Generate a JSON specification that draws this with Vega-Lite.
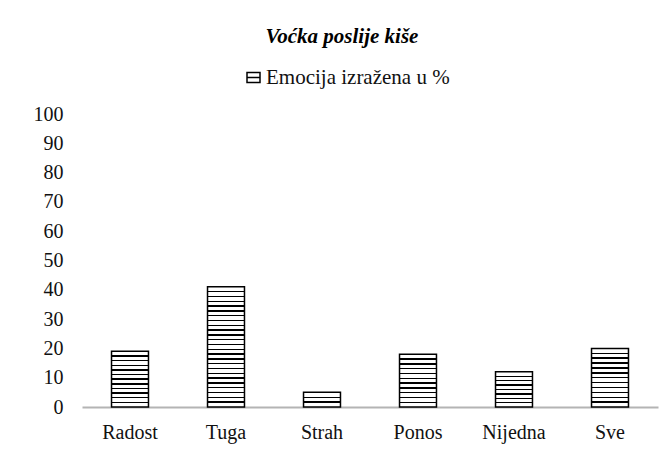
{
  "$schema": "https://vega.github.io/schema/vega-lite/v6.json",
  "width": 576,
  "height": 293,
  "autosize": {"type": "none"},
  "padding": {"left": 82, "top": 114, "right": 13, "bottom": 44},
  "background": "white",
  "title": {
    "text": "Voćka poslije kiše",
    "font": "Liberation Serif",
    "fontSize": 21,
    "fontWeight": "bold",
    "fontStyle": "italic",
    "color": "#000",
    "anchor": "middle",
    "frame": "group",
    "baseline": "alphabetic",
    "offset": 3,
    "dx": -28
  },
  "data": {
    "values": [
      {"emocija": "Radost", "postotak": 19, "serija": "Emocija izražena u %"},
      {"emocija": "Tuga", "postotak": 41, "serija": "Emocija izražena u %"},
      {"emocija": "Strah", "postotak": 5, "serija": "Emocija izražena u %"},
      {"emocija": "Ponos", "postotak": 18, "serija": "Emocija izražena u %"},
      {"emocija": "Nijedna", "postotak": 12, "serija": "Emocija izražena u %"},
      {"emocija": "Sve", "postotak": 20, "serija": "Emocija izražena u %"}
    ]
  },
  "mark": {"type": "bar", "strokeWidth": 1.5},
  "encoding": {
    "x": {
      "field": "emocija",
      "type": "nominal",
      "sort": null,
      "scale": {"paddingInner": 0.615, "paddingOuter": 0.3075},
      "axis": {
        "title": null,
        "labelAngle": 0,
        "labelFont": "Liberation Serif",
        "labelFontSize": 20,
        "labelColor": "#111",
        "labelPadding": 15,
        "ticks": false,
        "domain": true,
        "domainColor": "#b4b4b4",
        "domainWidth": 2,
        "grid": false
      }
    },
    "y": {
      "field": "postotak",
      "type": "quantitative",
      "scale": {"domain": [0, 100], "nice": false},
      "axis": {
        "title": null,
        "values": [0, 10, 20, 30, 40, 50, 60, 70, 80, 90, 100],
        "labelFont": "Liberation Serif",
        "labelFontSize": 20,
        "labelColor": "#111",
        "labelPadding": 19,
        "ticks": false,
        "domain": false,
        "grid": false
      }
    },
    "stroke": {
      "field": "serija",
      "type": "nominal",
      "scale": {"range": ["#000"]},
      "legend": {
        "title": null,
        "orient": "none",
        "legendX": 161,
        "legendY": -47,
        "padding": 0,
        "symbolType": "M-1,-0.78H1V0.78H-1ZM-1,0H1",
        "symbolSize": 169,
        "symbolStrokeWidth": 1.5,
        "symbolFillColor": "white",
        "labelFont": "Liberation Serif",
        "labelFontSize": 21,
        "labelColor": "#111",
        "labelOffset": 2,
        "labelLimit": 400
      }
    },
    "fill": {
      "condition": [
        {"test": "datum.emocija === 'Radost'", "value": {"gradient": "linear", "x1": 0, "y1": 0, "x2": 0, "y2": 1, "stops": [
          {"offset": 0, "color": "#fff"},
          {"offset": 0.0707, "color": "#fff"}, {"offset": 0.0707, "color": "#000"}, {"offset": 0.0959, "color": "#000"}, {"offset": 0.0959, "color": "#fff"},
          {"offset": 0.1541, "color": "#fff"}, {"offset": 0.1541, "color": "#000"}, {"offset": 0.1793, "color": "#000"}, {"offset": 0.1793, "color": "#fff"},
          {"offset": 0.2374, "color": "#fff"}, {"offset": 0.2374, "color": "#000"}, {"offset": 0.2626, "color": "#000"}, {"offset": 0.2626, "color": "#fff"},
          {"offset": 0.3207, "color": "#fff"}, {"offset": 0.3207, "color": "#000"}, {"offset": 0.3459, "color": "#000"}, {"offset": 0.3459, "color": "#fff"},
          {"offset": 0.4041, "color": "#fff"}, {"offset": 0.4041, "color": "#000"}, {"offset": 0.4293, "color": "#000"}, {"offset": 0.4293, "color": "#fff"},
          {"offset": 0.4874, "color": "#fff"}, {"offset": 0.4874, "color": "#000"}, {"offset": 0.5126, "color": "#000"}, {"offset": 0.5126, "color": "#fff"},
          {"offset": 0.5707, "color": "#fff"}, {"offset": 0.5707, "color": "#000"}, {"offset": 0.5959, "color": "#000"}, {"offset": 0.5959, "color": "#fff"},
          {"offset": 0.6541, "color": "#fff"}, {"offset": 0.6541, "color": "#000"}, {"offset": 0.6793, "color": "#000"}, {"offset": 0.6793, "color": "#fff"},
          {"offset": 0.7374, "color": "#fff"}, {"offset": 0.7374, "color": "#000"}, {"offset": 0.7626, "color": "#000"}, {"offset": 0.7626, "color": "#fff"},
          {"offset": 0.8207, "color": "#fff"}, {"offset": 0.8207, "color": "#000"}, {"offset": 0.8459, "color": "#000"}, {"offset": 0.8459, "color": "#fff"},
          {"offset": 0.9041, "color": "#fff"}, {"offset": 0.9041, "color": "#000"}, {"offset": 0.9293, "color": "#000"}, {"offset": 0.9293, "color": "#fff"},
          {"offset": 1, "color": "#fff"}
        ]}},
        {"test": "datum.emocija === 'Tuga'", "value": {"gradient": "linear", "x1": 0, "y1": 0, "x2": 0, "y2": 1, "stops": [
          {"offset": 0, "color": "#fff"},
          {"offset": 0.0342, "color": "#fff"}, {"offset": 0.0342, "color": "#000"}, {"offset": 0.0458, "color": "#000"}, {"offset": 0.0458, "color": "#fff"},
          {"offset": 0.0742, "color": "#fff"}, {"offset": 0.0742, "color": "#000"}, {"offset": 0.0858, "color": "#000"}, {"offset": 0.0858, "color": "#fff"},
          {"offset": 0.1142, "color": "#fff"}, {"offset": 0.1142, "color": "#000"}, {"offset": 0.1258, "color": "#000"}, {"offset": 0.1258, "color": "#fff"},
          {"offset": 0.1542, "color": "#fff"}, {"offset": 0.1542, "color": "#000"}, {"offset": 0.1658, "color": "#000"}, {"offset": 0.1658, "color": "#fff"},
          {"offset": 0.1942, "color": "#fff"}, {"offset": 0.1942, "color": "#000"}, {"offset": 0.2058, "color": "#000"}, {"offset": 0.2058, "color": "#fff"},
          {"offset": 0.2342, "color": "#fff"}, {"offset": 0.2342, "color": "#000"}, {"offset": 0.2458, "color": "#000"}, {"offset": 0.2458, "color": "#fff"},
          {"offset": 0.2742, "color": "#fff"}, {"offset": 0.2742, "color": "#000"}, {"offset": 0.2858, "color": "#000"}, {"offset": 0.2858, "color": "#fff"},
          {"offset": 0.3142, "color": "#fff"}, {"offset": 0.3142, "color": "#000"}, {"offset": 0.3258, "color": "#000"}, {"offset": 0.3258, "color": "#fff"},
          {"offset": 0.3542, "color": "#fff"}, {"offset": 0.3542, "color": "#000"}, {"offset": 0.3658, "color": "#000"}, {"offset": 0.3658, "color": "#fff"},
          {"offset": 0.3942, "color": "#fff"}, {"offset": 0.3942, "color": "#000"}, {"offset": 0.4058, "color": "#000"}, {"offset": 0.4058, "color": "#fff"},
          {"offset": 0.4342, "color": "#fff"}, {"offset": 0.4342, "color": "#000"}, {"offset": 0.4458, "color": "#000"}, {"offset": 0.4458, "color": "#fff"},
          {"offset": 0.4742, "color": "#fff"}, {"offset": 0.4742, "color": "#000"}, {"offset": 0.4858, "color": "#000"}, {"offset": 0.4858, "color": "#fff"},
          {"offset": 0.5142, "color": "#fff"}, {"offset": 0.5142, "color": "#000"}, {"offset": 0.5258, "color": "#000"}, {"offset": 0.5258, "color": "#fff"},
          {"offset": 0.5542, "color": "#fff"}, {"offset": 0.5542, "color": "#000"}, {"offset": 0.5658, "color": "#000"}, {"offset": 0.5658, "color": "#fff"},
          {"offset": 0.5942, "color": "#fff"}, {"offset": 0.5942, "color": "#000"}, {"offset": 0.6058, "color": "#000"}, {"offset": 0.6058, "color": "#fff"},
          {"offset": 0.6342, "color": "#fff"}, {"offset": 0.6342, "color": "#000"}, {"offset": 0.6458, "color": "#000"}, {"offset": 0.6458, "color": "#fff"},
          {"offset": 0.6742, "color": "#fff"}, {"offset": 0.6742, "color": "#000"}, {"offset": 0.6858, "color": "#000"}, {"offset": 0.6858, "color": "#fff"},
          {"offset": 0.7142, "color": "#fff"}, {"offset": 0.7142, "color": "#000"}, {"offset": 0.7258, "color": "#000"}, {"offset": 0.7258, "color": "#fff"},
          {"offset": 0.7542, "color": "#fff"}, {"offset": 0.7542, "color": "#000"}, {"offset": 0.7658, "color": "#000"}, {"offset": 0.7658, "color": "#fff"},
          {"offset": 0.7942, "color": "#fff"}, {"offset": 0.7942, "color": "#000"}, {"offset": 0.8058, "color": "#000"}, {"offset": 0.8058, "color": "#fff"},
          {"offset": 0.8342, "color": "#fff"}, {"offset": 0.8342, "color": "#000"}, {"offset": 0.8458, "color": "#000"}, {"offset": 0.8458, "color": "#fff"},
          {"offset": 0.8742, "color": "#fff"}, {"offset": 0.8742, "color": "#000"}, {"offset": 0.8858, "color": "#000"}, {"offset": 0.8858, "color": "#fff"},
          {"offset": 0.9142, "color": "#fff"}, {"offset": 0.9142, "color": "#000"}, {"offset": 0.9258, "color": "#000"}, {"offset": 0.9258, "color": "#fff"},
          {"offset": 0.9542, "color": "#fff"}, {"offset": 0.9542, "color": "#000"}, {"offset": 0.9658, "color": "#000"}, {"offset": 0.9658, "color": "#fff"},
          {"offset": 1, "color": "#fff"}
        ]}},
        {"test": "datum.emocija === 'Strah'", "value": {"gradient": "linear", "x1": 0, "y1": 0, "x2": 0, "y2": 1, "stops": [
          {"offset": 0, "color": "#fff"},
          {"offset": 0.2855, "color": "#fff"}, {"offset": 0.2855, "color": "#000"}, {"offset": 0.3811, "color": "#000"}, {"offset": 0.3811, "color": "#fff"},
          {"offset": 0.6189, "color": "#fff"}, {"offset": 0.6189, "color": "#000"}, {"offset": 0.7145, "color": "#000"}, {"offset": 0.7145, "color": "#fff"},
          {"offset": 1, "color": "#fff"}
        ]}},
        {"test": "datum.emocija === 'Ponos'", "value": {"gradient": "linear", "x1": 0, "y1": 0, "x2": 0, "y2": 1, "stops": [
          {"offset": 0, "color": "#fff"},
          {"offset": 0.0776, "color": "#fff"}, {"offset": 0.0776, "color": "#000"}, {"offset": 0.1042, "color": "#000"}, {"offset": 0.1042, "color": "#fff"},
          {"offset": 0.1685, "color": "#fff"}, {"offset": 0.1685, "color": "#000"}, {"offset": 0.1951, "color": "#000"}, {"offset": 0.1951, "color": "#fff"},
          {"offset": 0.2594, "color": "#fff"}, {"offset": 0.2594, "color": "#000"}, {"offset": 0.2860, "color": "#000"}, {"offset": 0.2860, "color": "#fff"},
          {"offset": 0.3503, "color": "#fff"}, {"offset": 0.3503, "color": "#000"}, {"offset": 0.3769, "color": "#000"}, {"offset": 0.3769, "color": "#fff"},
          {"offset": 0.4412, "color": "#fff"}, {"offset": 0.4412, "color": "#000"}, {"offset": 0.4678, "color": "#000"}, {"offset": 0.4678, "color": "#fff"},
          {"offset": 0.5322, "color": "#fff"}, {"offset": 0.5322, "color": "#000"}, {"offset": 0.5588, "color": "#000"}, {"offset": 0.5588, "color": "#fff"},
          {"offset": 0.6231, "color": "#fff"}, {"offset": 0.6231, "color": "#000"}, {"offset": 0.6497, "color": "#000"}, {"offset": 0.6497, "color": "#fff"},
          {"offset": 0.7140, "color": "#fff"}, {"offset": 0.7140, "color": "#000"}, {"offset": 0.7406, "color": "#000"}, {"offset": 0.7406, "color": "#fff"},
          {"offset": 0.8049, "color": "#fff"}, {"offset": 0.8049, "color": "#000"}, {"offset": 0.8315, "color": "#000"}, {"offset": 0.8315, "color": "#fff"},
          {"offset": 0.8958, "color": "#fff"}, {"offset": 0.8958, "color": "#000"}, {"offset": 0.9224, "color": "#000"}, {"offset": 0.9224, "color": "#fff"},
          {"offset": 1, "color": "#fff"}
        ]}},
        {"test": "datum.emocija === 'Nijedna'", "value": {"gradient": "linear", "x1": 0, "y1": 0, "x2": 0, "y2": 1, "stops": [
          {"offset": 0, "color": "#fff"},
          {"offset": 0.1051, "color": "#fff"}, {"offset": 0.1051, "color": "#000"}, {"offset": 0.1449, "color": "#000"}, {"offset": 0.1449, "color": "#fff"},
          {"offset": 0.2301, "color": "#fff"}, {"offset": 0.2301, "color": "#000"}, {"offset": 0.2699, "color": "#000"}, {"offset": 0.2699, "color": "#fff"},
          {"offset": 0.3551, "color": "#fff"}, {"offset": 0.3551, "color": "#000"}, {"offset": 0.3949, "color": "#000"}, {"offset": 0.3949, "color": "#fff"},
          {"offset": 0.4801, "color": "#fff"}, {"offset": 0.4801, "color": "#000"}, {"offset": 0.5199, "color": "#000"}, {"offset": 0.5199, "color": "#fff"},
          {"offset": 0.6051, "color": "#fff"}, {"offset": 0.6051, "color": "#000"}, {"offset": 0.6449, "color": "#000"}, {"offset": 0.6449, "color": "#fff"},
          {"offset": 0.7301, "color": "#fff"}, {"offset": 0.7301, "color": "#000"}, {"offset": 0.7699, "color": "#000"}, {"offset": 0.7699, "color": "#fff"},
          {"offset": 0.8551, "color": "#fff"}, {"offset": 0.8551, "color": "#000"}, {"offset": 0.8949, "color": "#000"}, {"offset": 0.8949, "color": "#fff"},
          {"offset": 1, "color": "#fff"}
        ]}},
        {"test": "datum.emocija === 'Sve'", "value": {"gradient": "linear", "x1": 0, "y1": 0, "x2": 0, "y2": 1, "stops": [
          {"offset": 0, "color": "#fff"},
          {"offset": 0.0714, "color": "#fff"}, {"offset": 0.0714, "color": "#000"}, {"offset": 0.0952, "color": "#000"}, {"offset": 0.0952, "color": "#fff"},
          {"offset": 0.1548, "color": "#fff"}, {"offset": 0.1548, "color": "#000"}, {"offset": 0.1786, "color": "#000"}, {"offset": 0.1786, "color": "#fff"},
          {"offset": 0.2381, "color": "#fff"}, {"offset": 0.2381, "color": "#000"}, {"offset": 0.2619, "color": "#000"}, {"offset": 0.2619, "color": "#fff"},
          {"offset": 0.3214, "color": "#fff"}, {"offset": 0.3214, "color": "#000"}, {"offset": 0.3452, "color": "#000"}, {"offset": 0.3452, "color": "#fff"},
          {"offset": 0.4048, "color": "#fff"}, {"offset": 0.4048, "color": "#000"}, {"offset": 0.4286, "color": "#000"}, {"offset": 0.4286, "color": "#fff"},
          {"offset": 0.4881, "color": "#fff"}, {"offset": 0.4881, "color": "#000"}, {"offset": 0.5119, "color": "#000"}, {"offset": 0.5119, "color": "#fff"},
          {"offset": 0.5714, "color": "#fff"}, {"offset": 0.5714, "color": "#000"}, {"offset": 0.5952, "color": "#000"}, {"offset": 0.5952, "color": "#fff"},
          {"offset": 0.6548, "color": "#fff"}, {"offset": 0.6548, "color": "#000"}, {"offset": 0.6786, "color": "#000"}, {"offset": 0.6786, "color": "#fff"},
          {"offset": 0.7381, "color": "#fff"}, {"offset": 0.7381, "color": "#000"}, {"offset": 0.7619, "color": "#000"}, {"offset": 0.7619, "color": "#fff"},
          {"offset": 0.8214, "color": "#fff"}, {"offset": 0.8214, "color": "#000"}, {"offset": 0.8452, "color": "#000"}, {"offset": 0.8452, "color": "#fff"},
          {"offset": 0.9048, "color": "#fff"}, {"offset": 0.9048, "color": "#000"}, {"offset": 0.9286, "color": "#000"}, {"offset": 0.9286, "color": "#fff"},
          {"offset": 1, "color": "#fff"}
        ]}}
      ],
      "value": "#fff"
    }
  },
  "config": {
    "view": {"stroke": null},
    "font": "Liberation Serif"
  }
}
